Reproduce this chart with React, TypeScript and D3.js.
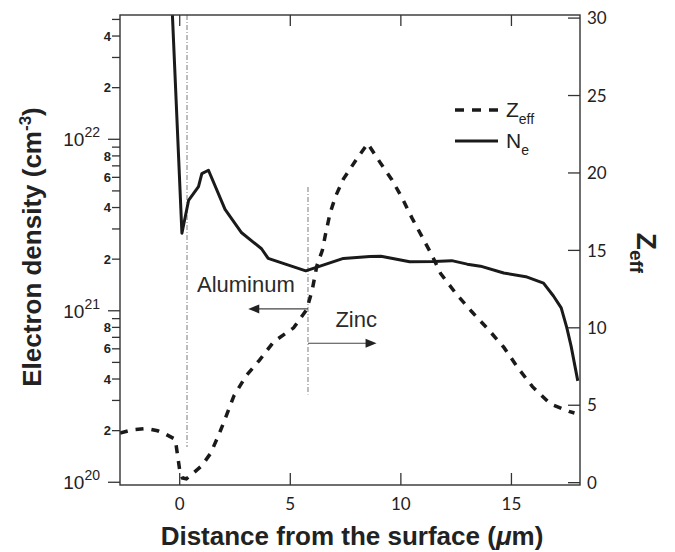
import React from "react";
import * as d3 from "d3";

// ---- data ----
const neX = [-0.33, 0.1, 0.4, 0.85, 1.0, 1.3, 2.05, 2.8, 3.7, 4.0, 5.7, 7.4, 8.6, 9.1, 10.4, 11.5, 12.3, 13.0, 13.6, 14.65, 15.65, 16.45, 16.9, 17.25, 17.5, 17.7, 18.0];
const neY = [5.3e22, 2.83e21, 4.4e21, 5.3e21, 6.3e21, 6.6e21, 3.9e21, 2.85e21, 2.3e21, 2.02e21, 1.71e21, 2.02e21, 2.07e21, 2.08e21, 1.93e21, 1.94e21, 1.96e21, 1.87e21, 1.82e21, 1.66e21, 1.58e21, 1.45e21, 1.22e21, 1.04e21, 8.0e20, 6.2e20, 3.9e20];

const zX = [-2.7, -2.2, -1.5, -1.0, -0.6, -0.2, -0.12, 0.0, 0.12, 0.3, 0.6, 1.0, 1.4, 1.8, 2.1, 2.45, 3.0, 3.6, 4.25, 5.15, 5.75, 6.0, 6.2, 6.45, 6.6, 6.8, 7.05, 7.4, 8.0, 8.5, 9.05, 9.6, 10.05, 10.5, 10.95, 11.4, 11.8, 12.5, 13.2, 13.95, 14.65, 15.3, 15.95, 16.75, 17.6, 17.85];
const zY = [3.2, 3.4, 3.5, 3.35, 3.1, 2.8, 2.0, 0.8, 0.3, 0.25, 0.6, 1.1, 1.9, 3.2, 4.3, 5.6, 6.9, 7.9, 9.1, 10.0, 11.2, 12.5, 14.0, 15.0, 16.1, 17.4, 18.5, 19.6, 20.9, 21.9, 20.7, 19.55, 18.4, 17.1, 15.9, 14.7, 13.5, 12.2, 11.05, 9.9, 8.75, 7.4, 6.2, 5.1, 4.6, 4.5];

const xTicks = [0, 5, 10, 15];
const zTicks = [0, 5, 10, 15, 20, 25, 30];
const decades = [20, 21, 22];
const minorLabeled = [2, 4, 6, 8];

// reference lines / annotations (data coords)
const refLine1 = { x: 0.33, z0: 30.2, z1: 2.3 };
const refLine2 = { x: 5.8, z0: 19.1, z1: 5.7 };
const arrowAl = { x0: 5.8, x1: 3.1, z: 11.22 };
const arrowZn = { x0: 5.8, x1: 8.9, z: 9.0 };
const labelAl = { x: 0.78, z: 12.34, text: "Aluminum" };
const labelZn = { x: 7.04, z: 10.04, text: "Zinc" };

const L = 120, R = 580, T = 15, B = 485;

export default function App() {
  const x = d3.scaleLinear().domain([-2.7, 18.1]).range([L, R]);
  const yL = d3.scaleLog().domain([Math.pow(10, 19.984), Math.pow(10, 22.7248)]).range([B, T]);
  const yR = d3.scaleLinear().domain([-0.15, 30.2]).range([B, T]);

  const neData = neX.map((v, i) => [v, neY[i]] as [number, number]);
  const zData = zX.map((v, i) => [v, zY[i]] as [number, number]);
  const neLine = d3.line<[number, number]>().x(d => x(d[0])).y(d => yL(d[1]))(neData) || "";
  const zLine = d3.line<[number, number]>().x(d => x(d[0])).y(d => yR(d[1]))(zData) || "";

  const minorTicks: { v: number; m: number }[] = [];
  for (let e = 20; e <= 22; e++) {
    for (let m = 2; m <= 9; m++) {
      const v = m * Math.pow(10, e);
      const yy = yL(v);
      if (yy >= T - 0.5 && yy <= B) minorTicks.push({ v, m });
    }
  }

  const numFont = "Lato, 'Liberation Sans', sans-serif";
  const helv = "'Liberation Sans', Arial, sans-serif";
  const axisColor = "#333";

  const arrowHead = (tipX: number, y: number, dir: number) => {
    const len = 11, hw = 4.5;
    return `M${tipX},${y} L${tipX - dir * len},${y - hw} L${tipX - dir * len},${y + hw} Z`;
  };

  return (
    <svg width={675} height={552} style={{ position: "absolute", left: 0, top: 0, background: "#fff" }}>
      <defs>
        <clipPath id="plot">
          <rect x={L} y={T} width={R - L} height={B - T} />
        </clipPath>
      </defs>
      <rect x={0} y={0} width={675} height={552} fill="#fff" />

      {/* reference lines */}
      <line x1={x(refLine1.x)} x2={x(refLine1.x)} y1={yR(refLine1.z0)} y2={yR(refLine1.z1)} stroke="#9a9a9a" strokeWidth={1.3} strokeDasharray="5,2,1,2" />
      <line x1={x(refLine2.x)} x2={x(refLine2.x)} y1={yR(refLine2.z0)} y2={yR(refLine2.z1)} stroke="#9a9a9a" strokeWidth={1.3} strokeDasharray="5,2,1,2" />

      {/* arrows */}
      <line x1={x(arrowAl.x0)} x2={x(arrowAl.x1) + 8} y1={yR(arrowAl.z)} y2={yR(arrowAl.z)} stroke="#444" strokeWidth={1.1} />
      <path d={arrowHead(x(arrowAl.x1), yR(arrowAl.z), -1)} fill="#222" />
      <line x1={x(arrowZn.x0)} x2={x(arrowZn.x1) - 8} y1={yR(arrowZn.z)} y2={yR(arrowZn.z)} stroke="#444" strokeWidth={1.1} />
      <path d={arrowHead(x(arrowZn.x1), yR(arrowZn.z), 1)} fill="#222" />
      <text x={x(labelAl.x)} y={yR(labelAl.z)} fontFamily={helv} fontSize={22} fill="#2a2a2a">{labelAl.text}</text>
      <text x={x(labelZn.x)} y={yR(labelZn.z)} fontFamily={helv} fontSize={22} fill="#2a2a2a">{labelZn.text}</text>

      {/* data */}
      <g clipPath="url(#plot)">
        <path d={neLine} fill="none" stroke="#1a1a1a" strokeWidth={3} strokeLinejoin="round" />
        <path d={zLine} fill="none" stroke="#1a1a1a" strokeWidth={3.5} strokeDasharray="8,8" />
      </g>

      {/* frame */}
      <rect x={L} y={T} width={R - L} height={B - T} fill="none" stroke={axisColor} strokeWidth={1.4} />

      {/* bottom / top ticks */}
      {xTicks.map(t => (
        <g key={"xt" + t}>
          <line x1={x(t)} x2={x(t)} y1={B} y2={B - 12} stroke={axisColor} strokeWidth={1.3} />
          <line x1={x(t)} x2={x(t)} y1={T} y2={T + 11} stroke={axisColor} strokeWidth={1.3} />
          <text x={x(t)} y={510} textAnchor="middle" fontFamily={numFont} fontSize={17} fill="#222">{t}</text>
        </g>
      ))}

      {/* right axis */}
      {zTicks.map(t => (
        <g key={"zt" + t}>
          <line x1={R} x2={R - 12} y1={yR(t)} y2={yR(t)} stroke={axisColor} strokeWidth={1.3} />
          <text x={587} y={yR(t)} dy="0.36em" fontFamily={numFont} fontSize={17} fill="#222">{t}</text>
        </g>
      ))}

      {/* left axis */}
      {decades.map(e => (
        <g key={"dec" + e}>
          <line x1={L} x2={L - 12} y1={yL(Math.pow(10, e))} y2={yL(Math.pow(10, e))} stroke={axisColor} strokeWidth={1.3} />
          <text x={100} y={yL(Math.pow(10, e)) + 7} textAnchor="end" fontFamily={helv} fontSize={19} fill="#222">
            10<tspan dy={-9} fontSize={14}>{e}</tspan>
          </text>
        </g>
      ))}
      {minorTicks.map(({ v, m }) => (
        <g key={"mt" + v}>
          <line x1={L} x2={L - 8} y1={yL(v)} y2={yL(v)} stroke={axisColor} strokeWidth={1.3} />
          {minorLabeled.includes(m) && (
            <text x={111} y={yL(v)} dy="0.36em" textAnchor="end" fontFamily={helv} fontWeight="bold" fontSize={13} fill="#222">{m}</text>
          )}
        </g>
      ))}

      {/* legend */}
      <line x1={455} x2={498} y1={110} y2={110} stroke="#1a1a1a" strokeWidth={3.5} strokeDasharray="9,8" />
      <text x={506} y={117} fontFamily={helv} fontSize={21} fill="#222">Z<tspan dy={7} fontSize={14}>eff</tspan></text>
      <line x1={455} x2={498} y1={141} y2={141} stroke="#1a1a1a" strokeWidth={3} />
      <text x={506} y={148} fontFamily={helv} fontSize={21} fill="#222">N<tspan dy={7} fontSize={14}>e</tspan></text>

      {/* axis titles */}
      <text x={352} y={545} textAnchor="middle" fontFamily={helv} fontWeight="bold" fontSize={26} fill="#222">
        Distance from the surface (<tspan fontStyle="italic">μ</tspan>m)
      </text>
      <text transform={`translate(41,247) rotate(-90)`} textAnchor="middle" fontFamily={helv} fontWeight="bold" fontSize={26} fill="#222">
        Electron density (cm<tspan dy={-10} fontSize={17}>-3</tspan><tspan dy={10}>)</tspan>
      </text>
      <text transform={`translate(637,253) rotate(90)`} textAnchor="middle" fontFamily={helv} fontWeight="bold" fontSize={28} fill="#222">
        Z<tspan dy={7} fontSize={19}>eff</tspan>
      </text>
    </svg>
  );
}
